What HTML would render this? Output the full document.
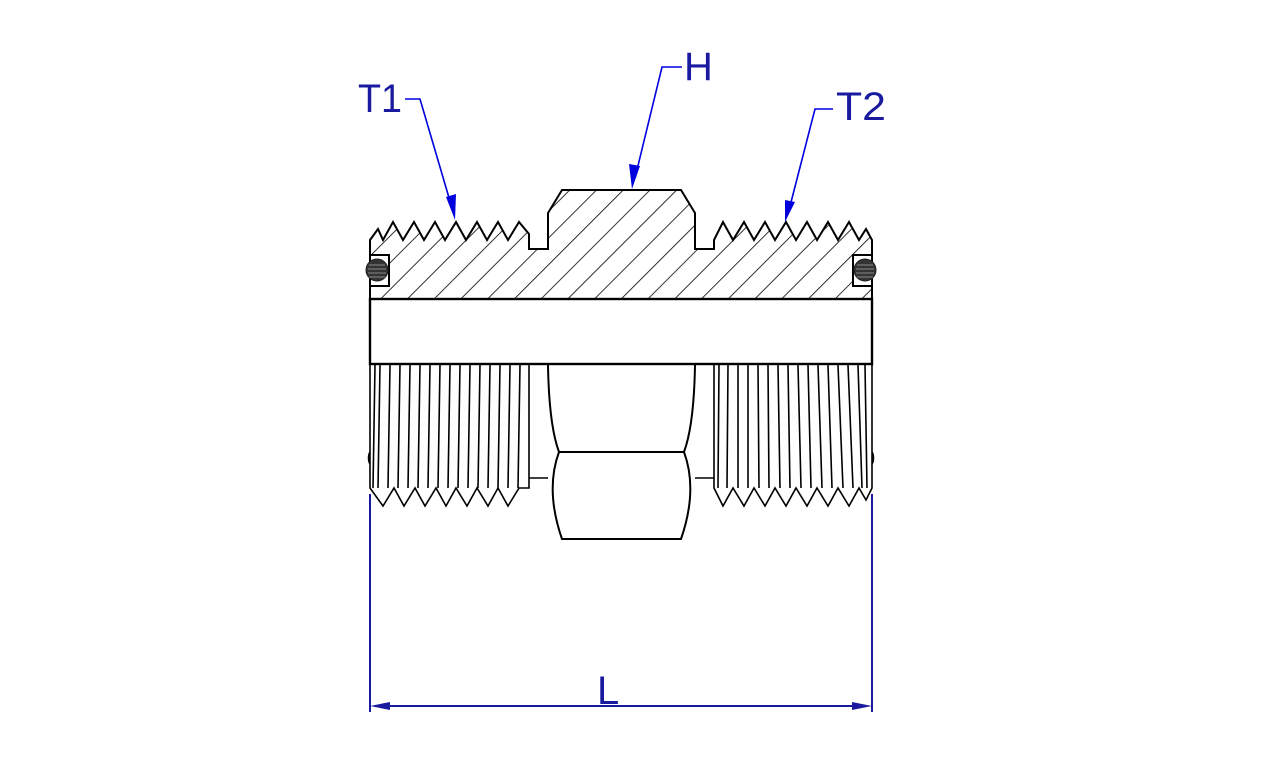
<!DOCTYPE html>
<html><head><meta charset="utf-8"><style>html,body{margin:0;padding:0;background:#fff;width:1280px;height:760px;overflow:hidden}</style></head>
<body>
<svg width="1280" height="760" viewBox="0 0 1280 760" xmlns="http://www.w3.org/2000/svg">
<defs>
<clipPath id="sec"><polygon points="370,299 370,240 378,229 383,240 393,222 403,240 414,222 424,240 435,222 445,240 456,222 466,240 477,222 487,240 498,222 508,240 519,222 529,234 529,249 548,249 548,213 562,190 681,190 695,213 695,249 714,249 714,240 723,222 733,240 744,222 754,240 765,222 775,240 786,222 796,240 807,222 817,240 828,222 838,240 849,222 859,240 866,229 872,240 872,299"/></clipPath>
<pattern id="hat" patternUnits="userSpaceOnUse" width="18.9" height="18.9" x="380" y="299" patternTransform="rotate(45 380 299)"><line x1="0" y1="-1" x2="0" y2="20" stroke="#000" stroke-width="1.6"/></pattern>
</defs>
<g clip-path="url(#sec)"><rect x="360" y="180" width="520" height="130" fill="url(#hat)"/></g>
<polygon points="370,299 370,240 378,229 383,240 393,222 403,240 414,222 424,240 435,222 445,240 456,222 466,240 477,222 487,240 498,222 508,240 519,222 529,234 529,249 548,249 548,213 562,190 681,190 695,213 695,249 714,249 714,240 723,222 733,240 744,222 754,240 765,222 775,240 786,222 796,240 807,222 817,240 828,222 838,240 849,222 859,240 866,229 872,240 872,299" fill="none" stroke="#000" stroke-width="2"/>
<rect x="370" y="255" width="19" height="31" fill="#fff" stroke="#000" stroke-width="2"/>
<rect x="853" y="255" width="19" height="31" fill="#fff" stroke="#000" stroke-width="2"/>
<g stroke="#888" stroke-width="1">
<circle cx="377" cy="270" r="11" fill="#333" stroke="#222"/>
<circle cx="865" cy="270" r="11" fill="#333" stroke="#222"/>
<path d="M369,265h16M368,269h18M368,273h18M369,277h16M857,265h16M856,269h18M856,273h18M857,277h16"/>
</g>
<rect x="370" y="299" width="502" height="65" fill="#fff" stroke="#000" stroke-width="2.4"/>
<g fill="none" stroke="#000" stroke-width="1.6">
<polyline points="370,365 370,488 383,506 394,488 404,506 415,488 425,506 436,488 446,506 456,488 467,506 477,488 488,506 498,488 508,506 519,488 529,488 529,365"/>
<polyline points="714,365 714,488 723,506 733,488 744,506 754,488 765,506 775,488 786,506 796,488 807,506 817,488 828,506 838,488 849,506 859,488 866,500 872,488 872,365" />
<path d="M375,365L373,488M380,365L378,488M390,365L388,488M400,365L398,488M410,365L408,488M420,365L418,488M430,365L428,488M440,365L438,488M450,365L448,488M460,365L458,488M470,365L468,488M480,365L478,488M490,365L488,488M500,365L498,488M510,365L508,488M520,365L518,488"/>
<path d="M719,365L718,488M728,365L727,488M738,365L738,488M748,365L748,488M758,365L759,488M768,365L769,488M778,365L780,488M788,365L790,488M798,365L801,488M808,365L811,488M818,365L822,488M828,365L832,488M838,365L843,488M848,365L853,488M858,365L862,488M865,365L867,488"/>
<path d="M529,478H548M695,478H714"/>
<path d="M370,452a3,7 0 0 0 0,12M872,452a3,7 0 0 1 0,12"/>
</g>
<g fill="none" stroke="#000" stroke-width="2">
<path d="M548,365Q549,425 559,452Q545,490 562,539H681Q698,490 684,452Q694,425 695,365"/>
<path d="M559,452H684"/>
</g>
<g stroke="#1a1aa0" stroke-width="2" fill="none">
<path d="M370,494V712M872,494V712M378,706H864"/>
</g>
<polygon points="370,706 390,702 390,710" fill="#1a1aa0"/>
<polygon points="872,706 852,702 852,710" fill="#1a1aa0"/>
<g stroke="#0000dd" stroke-width="1.6" fill="none">
<path d="M405,99H420L452,208"/>
<path d="M682,67H662L635,178"/>
<path d="M833,109H815L789,210"/>
</g>
<g fill="#0000dd">
<polygon points="455,220 446,197 456,194"/>
<polygon points="632,189 629,164 640,166"/>
<polygon points="785,222 785,200 795,202"/>
</g>
<g font-family="Liberation Sans, sans-serif" font-size="40" fill="#1a1aa0">
<text x="358" y="112" textLength="44" lengthAdjust="spacingAndGlyphs">T1</text>
<text x="684" y="80">H</text>
<text x="836" y="120" textLength="50" lengthAdjust="spacingAndGlyphs">T2</text>
<text x="597" y="704">L</text>
</g>
</svg>
</body></html>
